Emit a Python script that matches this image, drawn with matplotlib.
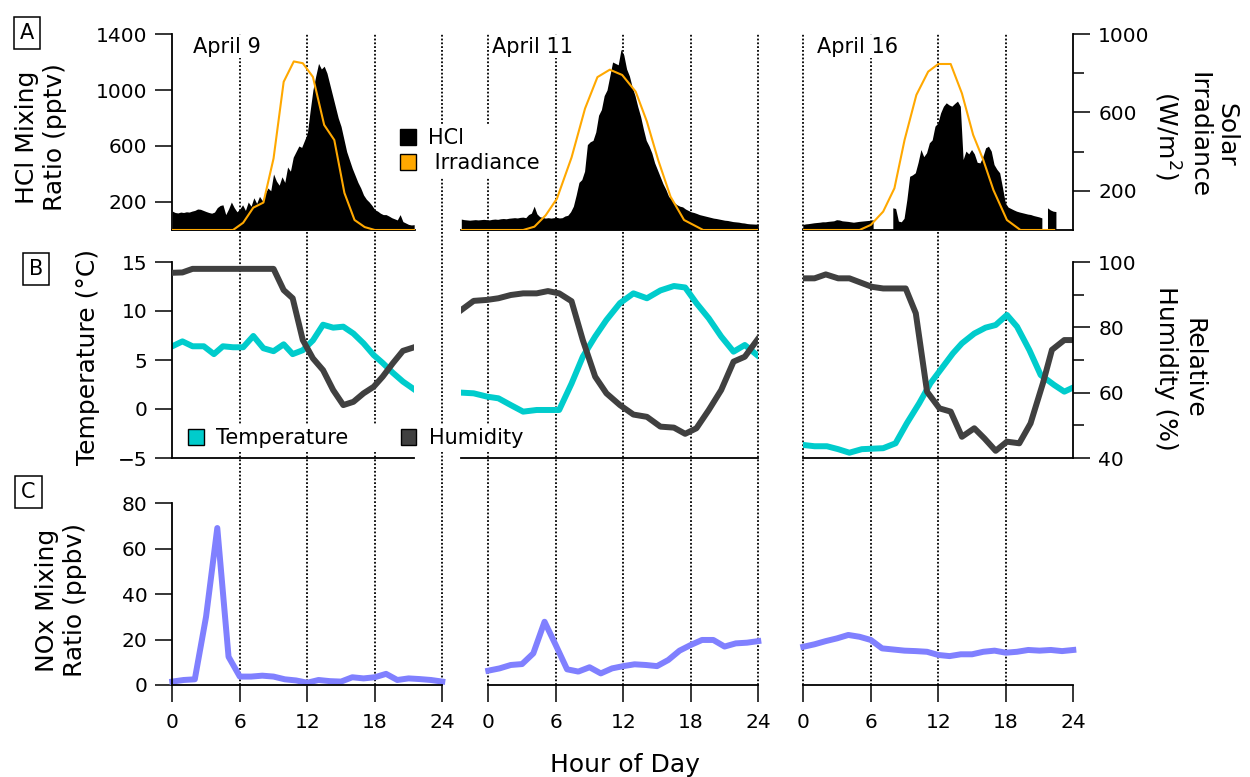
import numpy as np
import matplotlib.pyplot as plt
from matplotlib.patches import Patch

# ---------------- data ----------------
days = ['April 9', 'April 11', 'April 16']

# HCl mixing ratio (pptv), quarter-hour-ish samples
hcl_hours_1 = np.arange(0, 21.51, 0.25)
hcl_1 = [135, 125, 122, 128, 125, 130, 128, 135, 140, 150, 148, 140,
         132, 125, 120, 128, 160, 175, 180, 110, 150, 200, 160, 130,
         150, 180, 140, 200, 170, 230, 190, 240, 210, 260, 300, 280,
         400, 350, 320, 380, 340, 450, 420, 520, 560, 600, 590, 640,
         690, 850, 1000, 1100, 1190, 1150, 1170, 1120, 1040, 960, 880, 800,
         740, 650, 560, 500, 440, 390, 340, 300, 250, 220, 200, 175,
         145, 135, 120, 110, 110, 100, 88, 80, 72, 110, 60, 50,
         40, 36, 38]
hcl_hours_2 = np.linspace(-2.4, 24, 107)
hcl_2 = [78, 74, 72, 70, 72, 74, 72, 74, 76, 74, 72, 76,
         78, 76, 80, 82, 80, 84, 86, 88, 86, 90, 92, 88,
         110, 120, 170, 115, 95, 90, 85, 88, 85, 88, 90, 86,
         88, 100, 105, 130, 170, 250, 340, 360, 420, 610, 630, 640,
         700, 820, 860, 960, 1000, 1100, 1200, 1190, 1180, 1290, 1250, 1150,
         1100, 1020, 960, 880, 810, 720, 640, 600, 550, 480, 430, 380,
         330, 290, 240, 220, 195, 180, 170, 165, 150, 140, 130, 125,
         118, 110, 105, 100, 95, 90, 85, 82, 78, 74, 70, 68,
         64, 60, 58, 56, 52, 50, 46, 44, 43, 42, 43]
hcl_hours_3 = np.arange(0, 22.51, 0.25)
hcl_3 = [36, 40, 42, 45, 48, 50, 52, 55, 55, 58, 60, 62,
         70, 68, 62, 60, 58, 55, 52, 55, 58, 60, 62, 64,
         66, 70, np.nan, np.nan, np.nan, np.nan, np.nan, np.nan,
         155, 150, 60, 55, 80, 214, 380, 390, 405, 480, 571, 520,
         548, 619, 640, 738, 760, 833, 880, 905, 890, 881, 900, 917,
         880, 500, 560, 540, 571, 540, 480, 476, 520, 583, 595, 560,
         464, 430, 405, 300, 190, 160, 150, 140, 131, 125, 120, 115,
         110, 107, 100, 95, 90, 83, np.nan, 155, 140, 131, 128]

# solar irradiance (W/m2)
irr_hours_1 = [0, 5.4, 6.3, 7.2, 8.1, 9.0, 9.9, 10.8, 11.6, 12.5, 13.5, 14.4, 15.3, 16.2, 17.1, 18.0, 21.6]
irr_1 = [0, 0, 37, 114, 140, 365, 756, 860, 851, 781, 536, 459, 189, 51, 15, 0, 0]
irr_hours_2 = [-2.4, 3.1, 4.1, 5.1, 6.1, 7.4, 8.6, 9.7, 10.8, 11.9, 13.1, 14.1, 15.1, 16.2, 17.4, 19.1, 24]
irr_2 = [0, 0, 17, 75, 160, 370, 620, 780, 818, 791, 706, 553, 357, 170, 51, 0, 0]
irr_hours_3 = [0, 5.0, 6.0, 7.1, 8.1, 9.0, 10.05, 11.1, 12.0, 13.1, 14.1, 15.1, 16.0, 16.9, 18.1, 19.3, 22.3]
irr_3 = [0, 0, 26, 94, 213, 459, 689, 808, 847, 847, 697, 485, 357, 204, 51, 0, 0]

# temperature (C) and relative humidity (%)
met_hours_1 = [0, 0.9, 1.8, 2.8, 3.7, 4.5, 5.4, 6.3, 7.2, 8.1, 9.0, 9.9, 10.7,
               11.6, 12.5, 13.4, 14.3, 15.2, 16.1, 17.0, 17.9, 18.7, 19.6, 20.5, 21.5]
temp_1 = [6.4, 6.9, 6.4, 6.4, 5.6, 6.4, 6.3, 6.3, 7.45, 6.2, 5.9, 6.6, 5.6,
          6.0, 7.0, 8.6, 8.3, 8.4, 7.7, 6.7, 5.5, 4.7, 3.7, 2.8, 2.0]
hum_1 = [96.7, 96.8, 97.9, 97.9, 97.9, 97.9, 97.9, 97.9, 97.9, 97.9, 97.9, 91.4, 88.9,
         76.1, 70.5, 66.9, 60.8, 56.2, 57.2, 59.8, 61.8, 64.9, 69.0, 72.8, 73.9]
met_hours_2 = [-2.4, -1.3, -0.1, 0.9, 2.0, 3.1, 4.3, 5.3, 6.3, 7.4, 8.4, 9.5, 10.5,
               11.7, 12.9, 14.1, 15.3, 16.5, 17.5, 18.5, 19.6, 20.7, 21.8, 22.8, 24.0]
temp_2 = [1.67, 1.6, 1.26, 1.09, 0.4, -0.27, -0.1, -0.1, -0.1, 2.6, 5.34, 7.4, 9.08,
          10.8, 11.8, 11.3, 12.1, 12.55, 12.4, 10.8, 9.25, 7.4, 5.85, 6.53, 5.4]
hum_2 = [85.3, 88.1, 88.4, 88.9, 89.9, 90.4, 90.4, 91.1, 90.4, 88.0, 76.1, 64.9, 59.8,
         56.2, 53.3, 52.6, 49.6, 49.3, 47.4, 49.1, 54.7, 60.8, 69.5, 71.0, 76.6]
temp_hours_3 = [0, 1, 2.1, 3.1, 4.1, 5.2, 6.1, 7.1, 8.2, 9.2, 10.3, 11.3, 12.4,
                13.3, 14.1, 15.2, 16.2, 17.1, 18.1, 19.0, 20.1, 21.1, 22.3, 23.2, 24]
temp_3 = [-3.67, -3.8, -3.8, -4.1, -4.46, -4.1, -4.05, -4.0, -3.5, -1.46, 0.58, 2.62, 4.3,
          5.68, 6.7, 7.7, 8.3, 8.57, 9.6, 8.4, 6.0, 3.47, 2.45, 1.77, 2.2]
hum_hours_3 = [0, 1, 2, 3.1, 4.1, 5.1, 6.1, 7.1, 8.2, 9.1, 10.0, 11.0, 12.1,
               13.1, 14.1, 15.2, 16.1, 17.1, 18.1, 19.2, 20.2, 21.3, 22.1, 23.2, 24]
hum_3 = [95.0, 95.0, 96.2, 95.0, 95.0, 93.7, 92.4, 91.9, 91.9, 91.9, 84.3, 60.3, 55.2,
         54.2, 46.5, 49.1, 46.0, 42.2, 45.0, 44.5, 50.6, 62.9, 73.1, 76.1, 76.1]

# NOx mixing ratio (ppbv), hourly
nox_hours = list(range(25))
nox_1 = [1.5, 2.2, 2.5, 30, 69, 12.4, 3.7, 3.7, 4.1, 3.7, 2.5, 2.0, 1.0,
         2.2, 1.7, 1.5, 3.4, 2.9, 3.4, 4.9, 2.2, 2.9, 2.6, 2.2, 1.5]
nox_2 = [6.3, 7.3, 8.8, 9.2, 13.9, 27.8, 17.5, 6.9, 5.9, 7.8, 5.1, 7.3, 8.3,
         9.1, 8.8, 8.3, 11, 15.1, 17.6, 19.8, 19.8, 16.9, 18.3, 18.6, 19.3]
nox_3 = [16.8, 17.9, 19.3, 20.5, 22, 21.2, 19.8, 16.1, 15.6, 15.1, 14.9, 14.6, 13.2,
         12.7, 13.5, 13.5, 14.6, 15.1, 14.2, 14.6, 15.4, 15.1, 15.4, 14.9, 15.4]

hcl_hours = [hcl_hours_1, hcl_hours_2, hcl_hours_3]
hcl = [hcl_1, hcl_2, hcl_3]
irr_hours = [irr_hours_1, irr_hours_2, irr_hours_3]
irr = [irr_1, irr_2, irr_3]
temp_hours = [met_hours_1, met_hours_2, temp_hours_3]
temp = [temp_1, temp_2, temp_3]
hum_hours = [met_hours_1, met_hours_2, hum_hours_3]
hum = [hum_1, hum_2, hum_3]
nox = [nox_1, nox_2, nox_3]

guide_hours = [[6, 12, 18, 24], [0, 6, 12, 18, 24], [0, 6, 12, 18]]
hour_ticks = [0, 6, 12, 18, 24]

# ---------------- layout ----------------
W, H = 1250, 777
fig = plt.figure(figsize=(12.5, 7.77), dpi=100)


def fx(px):
    return px / W


def fy(py):
    return 1 - py / H


col_x0 = [172.3, 488.3, 803.3]
pph = 11.25
row_top = [34, 262, 503]
row_bot = [230, 458, 685]
span_a = [(0, 21.6), (-2.4, 24), (0, 24)]
span_b = [(0, 21.5), (-2.4, 24), (0, 24)]

TICK = dict(direction='out', length=12, width=1.1, labelsize=14.5, pad=6)
MINOR = dict(direction='out', length=8, width=1.1)
SPW = 1.3

CYAN = '#00CCCC'
DARK = '#404040'
ORANGE = '#FFA800'
NOXC = '#8080FF'


def make_ax(col, row, span):
    x0, x1 = span
    left = col_x0[col] + x0 * pph
    width = (x1 - x0) * pph
    ax = fig.add_axes([fx(left), fy(row_bot[row]), width / W,
                       (row_bot[row] - row_top[row]) / H])
    ax.set_xlim(x0, x1)
    ax.patch.set_visible(False)
    for s in ax.spines.values():
        s.set_linewidth(SPW)
    return ax


def style_pair(ax, axr, c, lticks, rticks, rminor):
    # left axis only on the first column, right axis only on the last
    ax.spines['top'].set_visible(False)
    ax.spines['right'].set_visible(False)
    ax.tick_params(axis='x', length=0, labelbottom=False)
    if c == 0:
        ax.set_yticks(lticks)
        ax.tick_params(axis='y', left=True, labelleft=True, **TICK)
    else:
        ax.spines['left'].set_visible(False)
        ax.tick_params(axis='y', left=False, labelleft=False)
    for name, s in axr.spines.items():
        s.set_visible(name == 'right' and c == 2)
        s.set_linewidth(SPW)
    if c == 2:
        axr.set_yticks(rticks)
        axr.set_yticks(rminor, minor=True)
        axr.tick_params(axis='y', which='major', **TICK)
        axr.tick_params(axis='y', which='minor', **MINOR)
    else:
        axr.tick_params(axis='y', which='both', left=False, right=False,
                        labelleft=False, labelright=False)


# dotted guide lines running through all three rows
for c in range(3):
    ov = fig.add_axes([fx(col_x0[c]), fy(685), 24 * pph / W, (685 - 34) / H])
    ov.set_xlim(0, 24)
    ov.set_ylim(0, 1)
    ov.axis('off')
    for h in guide_hours[c]:
        ov.axvline(h, color='k', lw=1.3, linestyle=(0, (1, 1.1)), clip_on=False)

day_label_x = [1.8, 0.36, 1.2]

for c in range(3):
    # ---------- row A : HCl + irradiance ----------
    ax = make_ax(c, 0, span_a[c])
    axr = ax.twinx()
    ax.fill_between(hcl_hours[c], hcl[c], 0, color='k', lw=0)
    ax.set_ylim(0, 1400)
    axr.plot(irr_hours[c], irr[c], color=ORANGE, lw=1.5)
    axr.set_ylim(0, 1000)
    style_pair(ax, axr, c, [200, 600, 1000, 1400], [200, 600, 1000], [400, 800])
    axr.text(day_label_x[c], 935, days[c], fontsize=15, ha='left', va='center',
             zorder=10, bbox=dict(fc='white', ec='none', pad=1))

    # ---------- row B : temperature + humidity ----------
    ax = make_ax(c, 1, span_b[c])
    axr = ax.twinx()
    ax.plot(temp_hours[c], temp[c], color=CYAN, lw=4.3, solid_joinstyle='round')
    ax.set_ylim(-5, 15)
    axr.plot(hum_hours[c], hum[c], color=DARK, lw=4.3, solid_joinstyle='round')
    axr.set_ylim(40, 100)
    style_pair(ax, axr, c, [-5, 0, 5, 10, 15], [40, 60, 80, 100], [50, 70, 90])

    # ---------- row C : NOx ----------
    ax = make_ax(c, 2, (0, 24))
    ax.plot(nox_hours, nox[c], color=NOXC, lw=4.3, solid_joinstyle='round', clip_on=False)
    ax.set_ylim(0, 80)
    ax.spines['top'].set_visible(False)
    ax.spines['right'].set_visible(False)
    ax.set_xticks(hour_ticks)
    ax.tick_params(axis='x', **dict(TICK, pad=8))
    if c == 0:
        ax.set_yticks([0, 20, 40, 60, 80])
        ax.tick_params(axis='y', **TICK)
    else:
        ax.spines['left'].set_visible(False)
        ax.tick_params(axis='y', left=False, labelleft=False)

# ---------------- legends ----------------
fig.legend(handles=[Patch(fc='k', ec='k'), Patch(fc=ORANGE, ec='k')],
           labels=['HCl', ' Irradiance'], loc='upper left',
           bbox_to_anchor=(fx(396), fy(124)), fontsize=15,
           handlelength=0.75, handleheight=0.75, handletextpad=0.6,
           labelspacing=0.25, borderpad=0.2, borderaxespad=0,
           frameon=True, framealpha=1, edgecolor='none', fancybox=False)
fig.legend(handles=[Patch(fc=CYAN, ec='k'), Patch(fc=DARK, ec='k')],
           labels=['Temperature', 'Humidity'], loc='upper left', ncol=2,
           bbox_to_anchor=(fx(184), fy(424)), fontsize=15,
           handlelength=0.75, handleheight=0.75, handletextpad=0.6,
           columnspacing=2.5, borderpad=0.2, borderaxespad=0,
           frameon=True, framealpha=1, edgecolor='none', fancybox=False)

# ---------------- labels ----------------
box = dict(boxstyle='square,pad=0.3', fc='white', ec='k', lw=1.1)
fig.text(fx(27), fy(33), 'A', fontsize=15, ha='center', va='center', bbox=box)
fig.text(fx(36), fy(269), 'B', fontsize=15, ha='center', va='center', bbox=box)
fig.text(fx(28), fy(492), 'C', fontsize=15, ha='center', va='center', bbox=box)

fig.text(fx(41), fy(137), 'HCl Mixing\nRatio (pptv)', rotation=90, fontsize=18,
         ha='center', va='center', multialignment='center')
fig.text(fx(88), fy(357), 'Temperature (°C)', rotation=90, fontsize=18,
         ha='center', va='center')
fig.text(fx(61), fy(600), 'NOx Mixing\nRatio (ppbv)', rotation=90, fontsize=18,
         ha='center', va='center', multialignment='center')
fig.text(fx(1195), fy(135), 'Solar\nIrradiance\n(W/m$^{2}$)', rotation=270, fontsize=18,
         ha='center', va='center', multialignment='center')
fig.text(fx(1180), fy(368), 'Relative\nHumidity (%)', rotation=270, fontsize=18,
         ha='center', va='center', multialignment='center')
fig.text(fx(625), fy(765), 'Hour of Day', fontsize=18, ha='center', va='center')

fig.savefig('out.png', dpi=100)
